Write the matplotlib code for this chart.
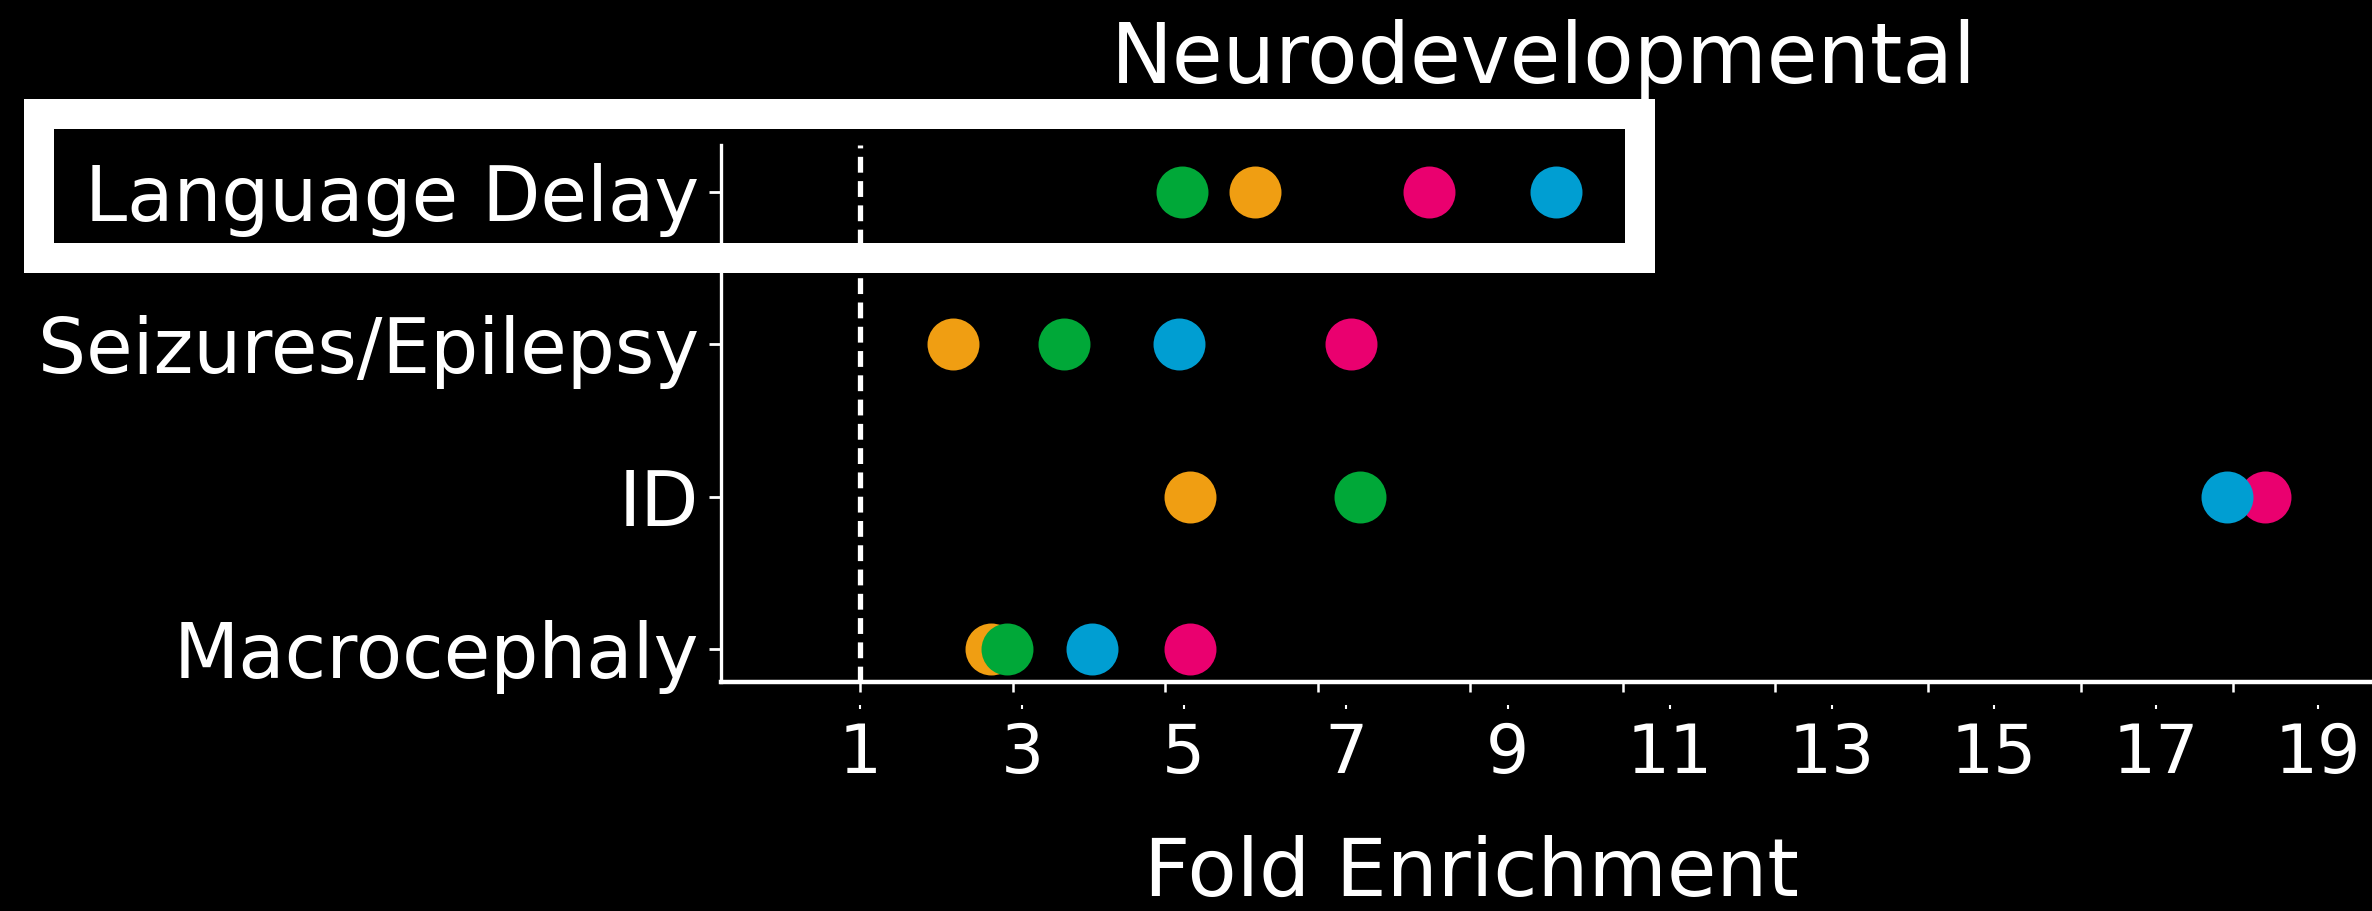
#!/usr/bin/env python3
"""
Dot plot of fold enrichment for neurodevelopmental phenotypes
"""

import numpy as np
import matplotlib
matplotlib.use("Agg")
import matplotlib.pyplot as plt
import matplotlib.patches as patches

# Phenotypes, top row first
phenotypes = ["Language Delay", "Seizures/Epilepsy", "ID", "Macrocephaly"]

# Fold enrichment per series, same order as phenotypes
orange_vals = [5.88, 2.15, 5.08, 2.62]
green_vals = [4.98, 3.52, 7.17, 2.81]
pink_vals = [8.02, 7.06, 18.35, 5.08]
blue_vals = [9.60, 4.94, 17.88, 3.86]

# Tick labels on the x axis
xtick_values = [1, 3, 5, 7, 9, 11, 13, 15, 17, 19]

title = "Neurodevelopmental"
xlabel = "Fold Enrichment"


def plot_enrichment(output_file="out.png"):
    W, H = 2372, 911
    fig = plt.figure(figsize=(W / 100, H / 100), dpi=100, facecolor="black")

    # Axes placed in pixels of the reference picture
    left, right, bottom, top = 721, W, 682, 145
    ax = fig.add_axes([left / W, 1 - bottom / H, (right - left) / W, (bottom - top) / H])
    ax.set_facecolor("black")

    ypos = np.arange(len(phenotypes))[::-1]

    # Draw order matters where dots overlap (green over orange, blue over pink)
    series = [
        (orange_vals, "#F09E12"),
        (green_vals, "#00A838"),
        (pink_vals, "#EA006F"),
        (blue_vals, "#009ED2"),
    ]
    for vals, color in series:
        ax.scatter(vals, ypos, s=1400, c=color, linewidths=0, zorder=3, clip_on=False)

    # Reference line at 1
    ax.axvline(1, color="white", linestyle=(0, (3.0, 1.6)), linewidth=3.8, zorder=2)

    ax.set_xlim(-0.716, 19.67)
    ax.set_ylim(-0.217, 3.31)

    # Spines
    for side in ("top", "right"):
        ax.spines[side].set_visible(False)
    ax.spines["left"].set_color("white")
    ax.spines["left"].set_linewidth(2.4)
    ax.spines["bottom"].set_color("white")
    ax.spines["bottom"].set_linewidth(3.2)

    # y ticks
    ax.set_yticks(ypos)
    ax.set_yticklabels(phenotypes)
    ax.tick_params(axis="y", colors="white", labelsize=54.5, length=8.5, width=2, pad=7.5)

    # major ticks on the axis line (unlabelled)
    tick_step = 1.884
    ax.set_xticks(1 + tick_step * np.arange(len(xtick_values)))
    ax.tick_params(axis="x", colors="white", length=7, width=1.8, labelbottom=False)

    # labelled ticks sit a little below the axis line
    sec = ax.secondary_xaxis(-0.043)
    sec.set_xticks(xtick_values)
    sec.set_xticklabels([str(v) for v in xtick_values])
    sec.spines["bottom"].set_visible(False)
    sec.tick_params(axis="x", colors="white", labelsize=49, length=3, width=1.5, pad=8.5)

    # x label
    ax.set_xlabel(xlabel, fontsize=58, color="white")
    ax.xaxis.set_label_coords((1471 - left) / (right - left), -(896 - bottom) / (bottom - top))
    ax.xaxis.label.set_va("baseline")

    # Title
    fig.text(1544 / W, 1 - 83 / H, title, fontsize=59.5, color="white",
             ha="center", va="baseline")

    # Highlight box around the Language Delay row
    bw = 30  # border width in px
    x0, x1, y0, y1 = 24 + bw / 2, 1655 - bw / 2, 99 + bw / 2, 273 - bw / 2
    box = patches.Rectangle((x0 / W, 1 - y1 / H), (x1 - x0) / W, (y1 - y0) / H,
                            transform=fig.transFigure, fill=False, edgecolor="white",
                            linewidth=bw * 0.72, joinstyle="miter", zorder=10)
    fig.add_artist(box)

    fig.savefig(output_file, dpi=100, facecolor="black")
    plt.close(fig)


if __name__ == "__main__":
    plot_enrichment()
